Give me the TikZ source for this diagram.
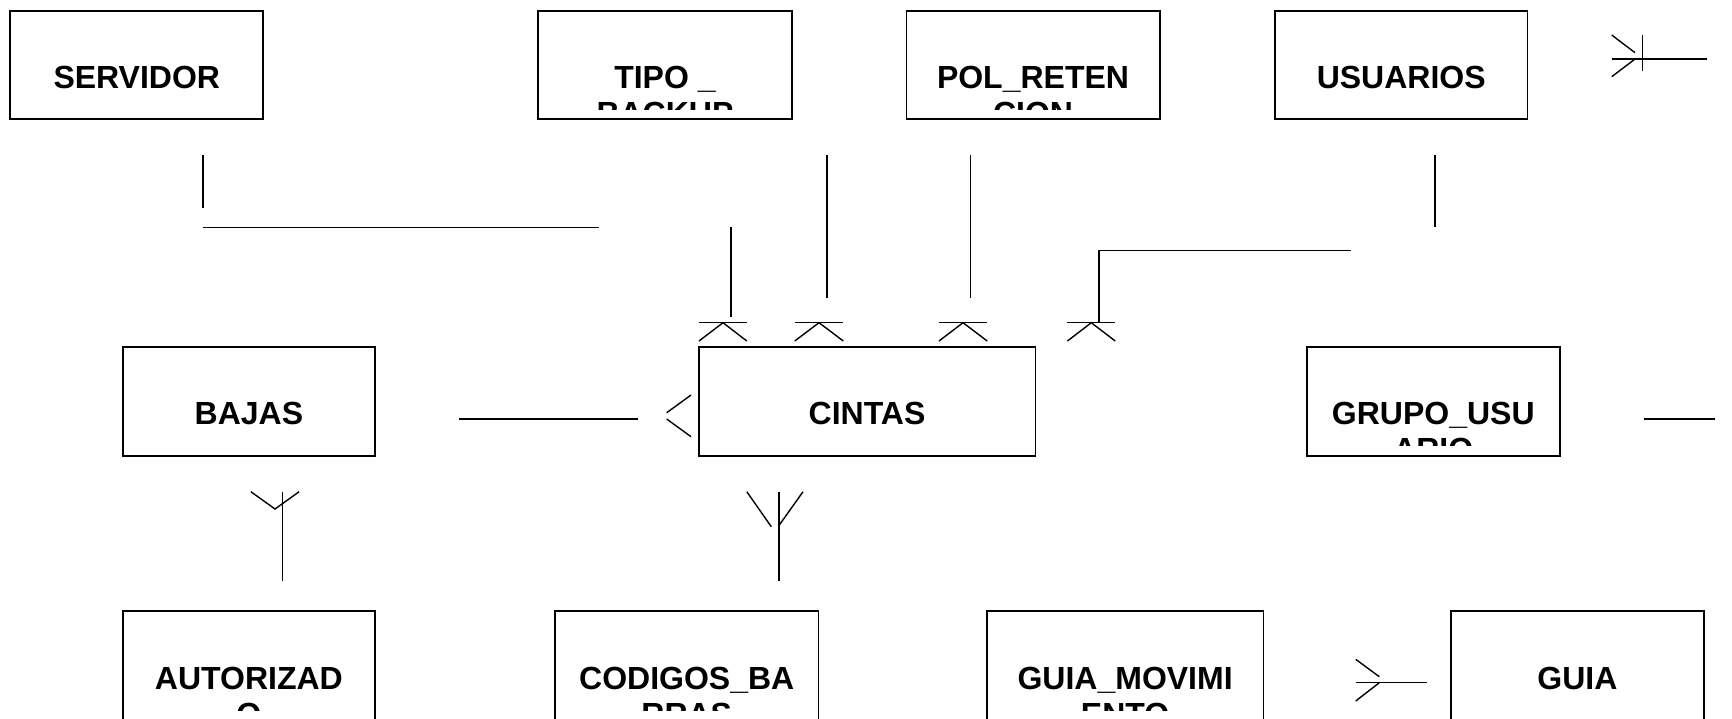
\documentclass[tikz,border=0pt]{standalone}
\usepackage{fontspec}
\setmainfont{Liberation Sans}
\usetikzlibrary{fit,calc}
\tikzset{
  ebox/.style={draw=black, line width=0.9pt, inner sep=0pt, rectangle},
  etext/.style={font=\fontsize{16pt}{18pt}\selectfont\bfseries, inner sep=0pt, anchor=base},
  conn/.style={draw=black, line width=0.7pt},
}
\newcommand\entity[7]{%
  \node[ebox, fit={(#2,#3) (#4,#5)}] (#1) {};
  \begin{scope}
    \clip (#2,#3) rectangle (#4,#5-10);
    \node[etext] (#1-a) at ($(#1.north)+(0,79)$) {#6};
    \node[etext] (#1-b) at ($(#1.north)+(0,115)$) {#7};
  \end{scope}}
\begin{document}
\begin{tikzpicture}[x=0.5pt,y=-0.5pt]
\useasboundingbox[fill=white] (0,0) rectangle (1732,718);
% entities
\entity{servidor}{10.3}{10.7}{263.3}{119}{SERVIDOR}{}
\entity{tipo}{538.3}{10.7}{791.6}{119}{TIPO \_}{BACKUP}
\entity{pol}{906.4}{10.7}{1159.6}{119}{POL\_RETEN}{CION}
\entity{usuarios}{1274.9}{10.7}{1527.5}{119}{USUARIOS}{}
\entity{bajas}{122.8}{346.7}{375}{455.7}{BAJAS}{}
\entity{cintas}{698.6}{346.7}{1035.4}{455.7}{CINTAS}{}
\entity{grupo}{1306.8}{346.7}{1559.7}{455.7}{GRUPO\_USU}{ARIO}
\entity{autorizado}{122.8}{611}{375}{720}{AUTORIZAD}{O}
\entity{codigos}{555}{611}{818.5}{720}{CODIGOS\_BA}{RRAS}
\entity{guiamov}{986.8}{611}{1263.4}{720}{GUIA\_MOVIMI}{ENTO}
\entity{guia}{1451}{611}{1703.9}{720}{GUIA}{}
% connector end points
\coordinate (s1) at (202.8,155);
\coordinate (s2) at (202.8,208.3);
\coordinate (s3) at (202.8,227.3);
\coordinate (s4) at (598.7,227.3);
\coordinate (a1) at (730.8,227.3);
\coordinate (a2) at (730.8,316.7);
\coordinate (b1) at (826.8,155);
\coordinate (b2) at (826.8,298.3);
\coordinate (c1) at (970.7,155);
\coordinate (c2) at (970.7,298.3);
\coordinate (u1) at (1434.9,155);
\coordinate (u2) at (1434.9,226.7);
\coordinate (d1) at (1351,250.7);
\coordinate (d2) at (1099.1,250.7);
\coordinate (d3) at (1099.1,322.7);
\coordinate (tr1) at (1611.7,59);
\coordinate (tr2) at (1706.7,59);
\coordinate (bc1) at (458.9,419);
\coordinate (bc2) at (638.4,419);
\coordinate (g1) at (1643.8,419);
\coordinate (g2) at (1715,419);
\coordinate (ba1) at (282.6,491.7);
\coordinate (ba2) at (282.6,580.7);
\coordinate (ci1) at (779,491.7);
\coordinate (ci2) at (779,580.7);
\coordinate (gu1) at (1355.7,682.7);
\coordinate (gu2) at (1426.7,682.7);
% lines
\draw[conn] (s1) -- (s2);
\draw[conn] (s3) -- (s4);
\draw[conn] (a1) -- (a2);
\draw[conn] (b1) -- (b2);
\draw[conn] (c1) -- (c2);
\draw[conn] (u1) -- (u2);
\draw[conn] (d1) -- (d2) -- (d3);
\draw[conn] (tr1) -- (tr2);
\draw[conn] (bc1) -- (bc2);
\draw[conn] (g1) -- (g2);
\draw[conn] (ba1) -- (ba2);
\draw[conn] (ci1) -- (ci2);
\draw[conn] (gu1) -- (gu2);
% crow's feet above CINTAS
\foreach \l/\m/\r in {699/723/746.8, 794.7/819/843.3, 939/963/987.2, 1067.4/1091.3/1115.2}{
  \draw[conn] (\l,322.7) -- (\r,322.7);
  \draw[conn] (\l,341) -- (\m,322.7) -- (\r,341);
}
% top-right symbol
\draw[conn] (1642.7,35) -- (1642.7,70.7);
\draw[conn] (1611.7,35) -- (1635,52.7);
\draw[conn] (1611.7,76.7) -- (1635,59);
% left of CINTAS
\draw[conn] (691,395) -- (666.7,412.7);
\draw[conn] (666.7,419) -- (691,436.7);
% below BAJAS
\draw[conn] (250.9,491.7) -- (275,509) -- (299.1,491.7);
% below CINTAS
\draw[conn] (746.8,491.7) -- (771.3,526.7);
\draw[conn] (803,491.7) -- (779.3,525);
% left of GUIA
\draw[conn] (1355.7,659.3) -- (1379.3,676.7);
\draw[conn] (1355.7,701) -- (1379.3,682.7);
\end{tikzpicture}
\end{document}
